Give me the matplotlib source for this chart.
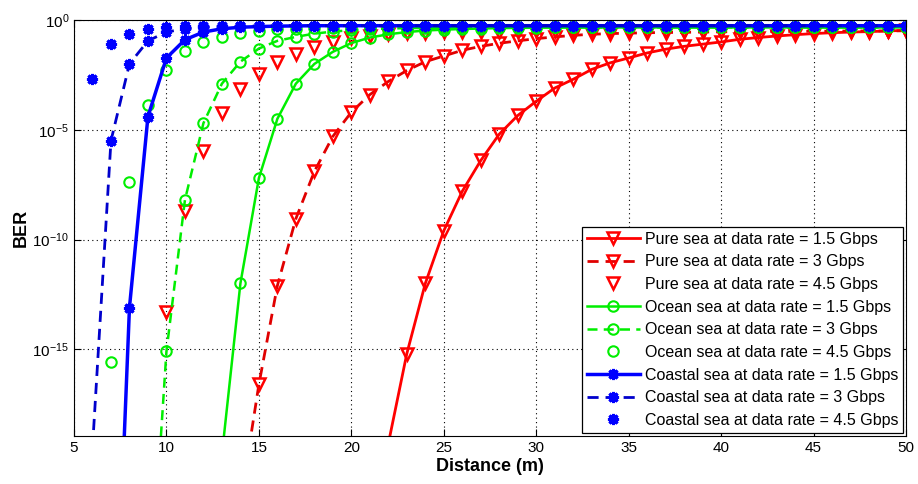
import numpy as np
import matplotlib
matplotlib.use("Agg")
import matplotlib.pyplot as plt
from matplotlib.ticker import LogLocator, NullLocator, MultipleLocator

plt.rcParams["font.family"] = ["Liberation Sans", "DejaVu Sans"]
plt.rcParams["mathtext.fontset"] = "custom"
plt.rcParams["mathtext.rm"] = "Liberation Sans"
plt.rcParams["mathtext.it"] = "Liberation Sans:italic"

# ---- data: distance (m) and log10(BER) ----
x_pure_15 = list(range(21, 51))
lg_pure_15 = [-23.5, -19.3, -15.2, -12.0, -9.6, -7.8, -6.4, -5.2, -4.35, -3.7,
              -3.1, -2.7, -2.25, -1.95, -1.73, -1.5, -1.33, -1.2, -1.1, -1.0,
              -0.88, -0.8, -0.73, -0.67, -0.62, -0.58, -0.55, -0.53, -0.5, -0.47]

x_pure_3 = list(range(14, 51))
lg_pure_3 = [-22.0, -16.6, -12.1, -9.05, -6.9, -5.3, -4.2, -3.4, -2.8, -2.3,
             -1.9, -1.64, -1.38, -1.2, -1.06, -0.95, -0.85, -0.77, -0.7, -0.65,
             -0.62, -0.6, -0.58, -0.57, -0.56, -0.55, -0.54, -0.53, -0.53, -0.52,
             -0.52, -0.51, -0.51, -0.5, -0.5, -0.5, -0.49]

x_pure_45 = list(range(10, 51))
lg_pure_45 = [-13.3, -8.7, -5.95, -4.25, -3.15, -2.45, -1.93, -1.55, -1.23, -1.0,
              -0.84, -0.74, -0.66, -0.61, -0.58, -0.56, -0.55, -0.54, -0.53, -0.53,
              -0.52, -0.52, -0.52, -0.52, -0.51, -0.51, -0.51, -0.51, -0.51, -0.51,
              -0.5, -0.5, -0.5, -0.5, -0.5, -0.5, -0.5, -0.5, -0.5, -0.5, -0.5]

x_ocean_15 = list(range(13, 51))
lg_ocean_15 = [-19.8, -12.0, -7.2, -4.5, -2.9, -2.0, -1.45, -1.05, -0.8, -0.65,
               -0.55, -0.48, -0.44, -0.41, -0.39, -0.37, -0.36, -0.35, -0.34, -0.34,
               -0.34, -0.34, -0.34, -0.34, -0.34, -0.34, -0.34, -0.34, -0.34, -0.34,
               -0.34, -0.34, -0.34, -0.34, -0.34, -0.34, -0.34, -0.34]

x_ocean_3 = list(range(9, 51))
lg_ocean_3 = [-28.0, -15.1, -8.2, -4.7, -2.9, -1.9, -1.3, -0.95, -0.77, -0.62,
              -0.53, -0.46, -0.42, -0.39, -0.37, -0.36, -0.35, -0.34, -0.34, -0.34,
              -0.34, -0.34, -0.34, -0.34, -0.34, -0.34, -0.34, -0.34, -0.34, -0.34,
              -0.34, -0.34, -0.34, -0.34, -0.34, -0.34, -0.34, -0.34, -0.34, -0.34,
              -0.34, -0.34]

x_ocean_45 = list(range(7, 51))
lg_ocean_45 = [-15.6, -7.4, -3.85, -2.27, -1.42, -1.0, -0.77, -0.6, -0.5, -0.43,
               -0.39, -0.37, -0.36, -0.35, -0.34, -0.34, -0.34, -0.34, -0.34, -0.34,
               -0.34, -0.34, -0.34, -0.34, -0.34, -0.34, -0.34, -0.34, -0.34, -0.34,
               -0.34, -0.34, -0.34, -0.34, -0.34, -0.34, -0.34, -0.34, -0.34, -0.34,
               -0.34, -0.34, -0.34, -0.34]

x_coast_15 = list(range(7, 51))
lg_coast_15 = [-34.0, -13.1, -4.4, -1.73, -0.9, -0.55, -0.4, -0.33, -0.3, -0.28,
               -0.27, -0.26, -0.26, -0.26, -0.26, -0.26, -0.26, -0.26, -0.26, -0.26,
               -0.26, -0.26, -0.26, -0.26, -0.26, -0.26, -0.26, -0.26, -0.26, -0.26,
               -0.26, -0.26, -0.26, -0.26, -0.26, -0.26, -0.26, -0.26, -0.26, -0.26,
               -0.26, -0.26, -0.26, -0.26]

x_coast_3 = list(range(6, 51))
lg_coast_3 = [-19.5, -5.5, -2.0, -0.95, -0.55, -0.4, -0.33, -0.3, -0.28, -0.27,
              -0.26, -0.26, -0.26, -0.26, -0.26, -0.26, -0.26, -0.26, -0.26, -0.26,
              -0.26, -0.26, -0.26, -0.26, -0.26, -0.26, -0.26, -0.26, -0.26, -0.26,
              -0.26, -0.26, -0.26, -0.26, -0.26, -0.26, -0.26, -0.26, -0.26, -0.26,
              -0.26, -0.26, -0.26, -0.26, -0.26]

x_coast_45 = list(range(6, 51))
lg_coast_45 = [-2.7, -1.1, -0.64, -0.42, -0.33, -0.29, -0.27, -0.26, -0.26, -0.26,
               -0.26, -0.26, -0.26, -0.26, -0.26, -0.26, -0.26, -0.26, -0.26, -0.26,
               -0.26, -0.26, -0.26, -0.26, -0.26, -0.26, -0.26, -0.26, -0.26, -0.26,
               -0.26, -0.26, -0.26, -0.26, -0.26, -0.26, -0.26, -0.26, -0.26, -0.26,
               -0.26, -0.26, -0.26, -0.26, -0.26]

labels = [
    "Pure sea at data rate = 1.5 Gbps",
    "Pure sea at data rate = 3 Gbps",
    "Pure sea at data rate = 4.5 Gbps",
    "Ocean sea at data rate = 1.5 Gbps",
    "Ocean sea at data rate = 3 Gbps",
    "Ocean sea at data rate = 4.5 Gbps",
    "Coastal sea at data rate = 1.5 Gbps",
    "Coastal sea at data rate = 3 Gbps",
    "Coastal sea at data rate = 4.5 Gbps",
]

RED = "#ff0000"
RED_D = "#e00000"
GREEN = "#00ee00"
BLUE = "#0000ff"
BLUE_D = "#0000cc"
star = (8, 2, 0)
dash = (4, 2.5)


def ber(lg):
    return np.power(10.0, np.array(lg))


fig = plt.figure(figsize=(9.18, 4.84), dpi=100)
ax = fig.add_axes([0.0806, 0.0992, 0.9064, 0.8595])

tri = dict(marker="v", ms=8.5, mfc="none", mew=1.8)
circ = dict(marker="o", ms=7.5, mfc="none", mew=1.5)
ast = dict(marker=star, ms=8, mew=2.2)

ax.semilogy(x_pure_15, ber(lg_pure_15), ls="-", color=RED, lw=2,
            label=labels[0], **tri)
ax.semilogy(x_pure_3, ber(lg_pure_3), ls="--", color=RED_D, lw=2, dashes=dash,
            mec=RED, label=labels[1], **tri)
ax.semilogy(x_pure_45, ber(lg_pure_45), ls="none", color=RED,
            label=labels[2], **tri)
ax.semilogy(x_ocean_15, ber(lg_ocean_15), ls="-", color=GREEN, lw=1.8,
            label=labels[3], **circ)
ax.semilogy(x_ocean_3, ber(lg_ocean_3), ls="--", color=GREEN, lw=1.8,
            dashes=dash, label=labels[4], **circ)
ax.semilogy(x_ocean_45, ber(lg_ocean_45), ls="none", color=GREEN,
            label=labels[5], **circ)
ax.semilogy(x_coast_15, ber(lg_coast_15), ls="-", color=BLUE, lw=2.5,
            label=labels[6], **ast)
ax.semilogy(x_coast_3, ber(lg_coast_3), ls="--", color=BLUE_D, lw=2,
            dashes=dash, mec=BLUE, mfc=BLUE, label=labels[7], **ast)
ax.semilogy(x_coast_45, ber(lg_coast_45), ls="none", color=BLUE,
            label=labels[8], **ast)

ax.set_xlim(5, 50)
ax.set_ylim(10 ** -18.95, 1)
ax.xaxis.set_major_locator(MultipleLocator(5))
ax.yaxis.set_major_locator(LogLocator(base=10.0 ** 5, numticks=10))
ax.yaxis.set_minor_locator(NullLocator())
ax.grid(True, which="major", color="black", linestyle=(0, (1, 3)), lw=0.8)
ax.tick_params(direction="in", top=True, right=True, length=5, labelsize=11,
               width=0.8)
for s in ax.spines.values():
    s.set_linewidth(0.8)

ax.set_xlabel("Distance (m)", fontsize=13, fontweight="bold", labelpad=2)
ax.set_ylabel("BER", fontsize=13, fontweight="bold", labelpad=2)

leg = ax.legend(loc="lower right", fontsize=11.5, fancybox=False, framealpha=1,
                edgecolor="black", handlelength=3.3, handletextpad=0.3,
                labelspacing=0.48, borderpad=0.3, borderaxespad=0.2)
leg.get_frame().set_linewidth(0.9)

fig.savefig("out.png", dpi=100)
